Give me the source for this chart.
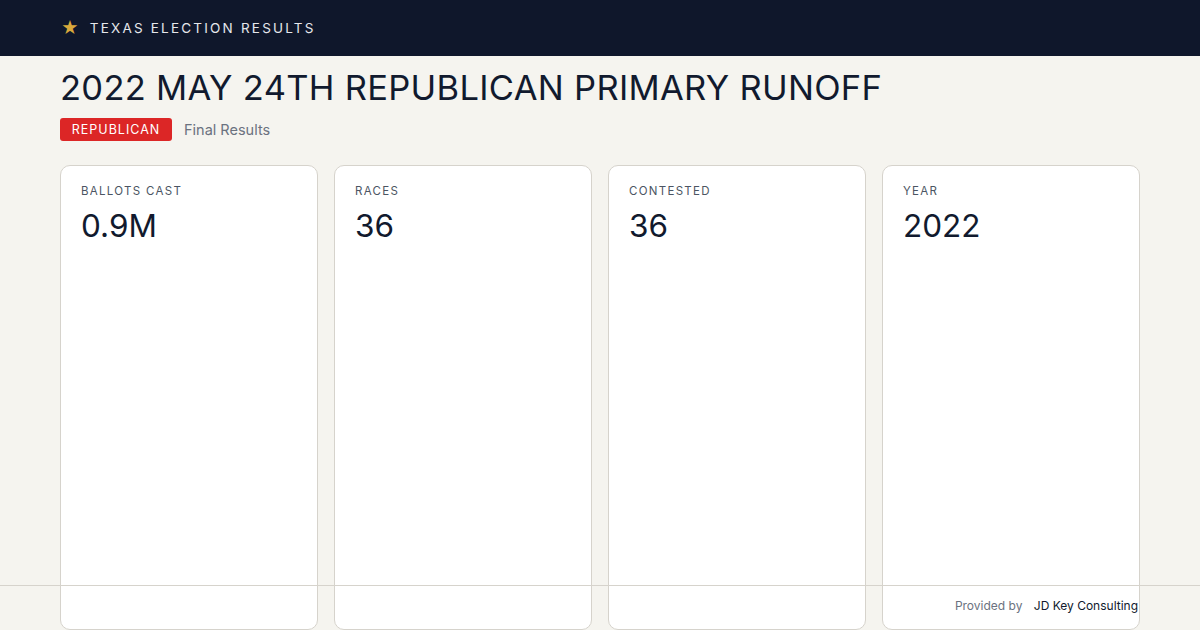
<!DOCTYPE html>
<html><head><meta charset="utf-8">
<script src="https://cdn.jsdelivr.net/npm/chart.js@4"></script>
<style>
*{box-sizing:border-box;margin:0;padding:0}
body{width:1200px;height:630px;overflow:hidden;background:#f5f4ef;font-family:Inter,"Liberation Sans",sans-serif;position:relative;color:#111a2e}
#top{height:56px;background:#0f172b;display:flex;align-items:center;padding-left:61px;color:#e5e7eb;font-size:13.5px;letter-spacing:2.2px}
#top .star{color:#d9a93c;font-size:17px;margin-right:11px;letter-spacing:0}
h1{position:absolute;left:60px;top:67px;font-size:34.5px;font-weight:400;letter-spacing:0.3px;color:#111a2e}
#badge{position:absolute;left:60px;top:118px;width:112px;height:23px;background:#dc2626;border-radius:3px;color:#fff;font-size:12.5px;letter-spacing:1px;text-align:center;line-height:23px}
#sub{position:absolute;left:184px;top:121px;font-size:14.5px;color:#6b7280}
.card{position:absolute;top:165px;width:258px;height:465px;background:#fff;border:1px solid #d6d3cc;border-radius:10px}
.card .l{position:absolute;left:20px;top:18px;font-size:11.5px;letter-spacing:1.3px;color:#4b5563}
.card .v{position:absolute;left:20px;top:40px;font-size:31.5px;color:#111a2e}
#line{position:absolute;left:0;top:585px;width:1200px;height:1px;background:#d6d3cc}
#foot{position:absolute;right:62px;top:598px;font-size:12px;color:#6b7280}
#foot b{font-weight:400;color:#111a2e;margin-left:8px}
</style></head><body>
<div id="top"><span class="star">★</span>TEXAS ELECTION RESULTS</div>
<h1>2022 MAY 24TH REPUBLICAN PRIMARY RUNOFF</h1>
<div id="badge">REPUBLICAN</div><div id="sub">Final Results</div>
<div id="cards"></div>
<div id="line"></div>
<div id="foot">Provided by <b>JD Key Consulting</b></div>
<script>
const labels=["BALLOTS CAST","RACES","CONTESTED","YEAR"];
const values=["0.9M","36","36","2022"];
const c=document.getElementById('cards');
labels.forEach((l,i)=>{const d=document.createElement('div');d.className='card';d.style.left=(60+i*274)+'px';
d.innerHTML='<div class="l">'+l+'</div><div class="v">'+values[i]+'</div>';c.appendChild(d);});
</script>
</body></html>
